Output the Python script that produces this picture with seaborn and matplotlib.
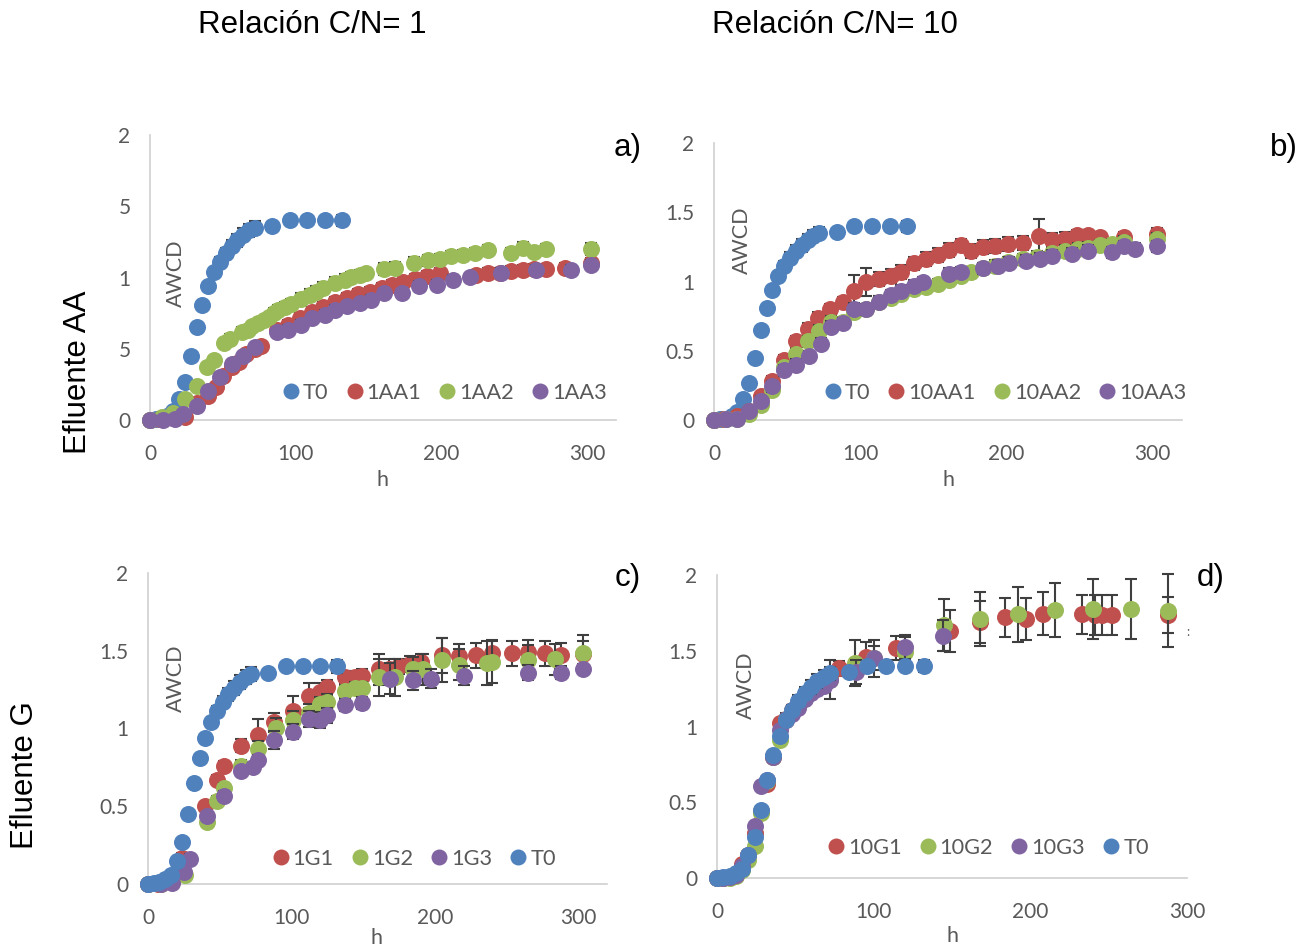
import numpy as np
import pandas as pd
import matplotlib
matplotlib.use('Agg')
import matplotlib.pyplot as plt
from matplotlib.lines import Line2D
import seaborn as sns

sns.set_style('white')
plt.rcParams['font.family'] = ['Lato', 'DejaVu Sans']

BLUE, RED, GREEN, PURPLE = '#4F81BD', '#C0504D', '#9BBB59', '#8064A2'
GRAY = '#595959'
W, H = 1308, 947

## control curve, same in the four panels
t0_t = [0, 4, 8, 12, 16, 20, 24, 28, 32, 36, 40, 44, 48, 52, 56, 60, 64, 68, 72, 84, 96, 108, 120, 132]
t0_v = [0, 0.005, 0.01, 0.03, 0.06, 0.15, 0.27, 0.45, 0.65, 0.81, 0.94, 1.04, 1.11, 1.17, 1.22, 1.26, 1.30, 1.33, 1.35, 1.36, 1.40, 1.40, 1.40, 1.40]
t0_e = [0, 0, 0, 0, 0.005, 0.01, 0.01, 0.01, 0.01, 0.01, 0.02, 0.03, 0.035, 0.04, 0.04, 0.045, 0.045, 0.045, 0.045, 0.01, 0.01, 0.01, 0.01, 0.04]

## a) C/N 1, efluente AA
aa1_t = [0, 7, 16, 24, 32, 40, 45, 50, 56, 61, 66, 72, 76, 87, 95, 103, 111, 119, 127, 135, 143, 151, 159, 166, 174, 182, 190, 199, 224, 232, 240, 248, 256, 264, 272, 285, 303]
aa1_v = [0, 0.005, 0.015, 0.02, 0.12, 0.17, 0.23, 0.31, 0.37, 0.41, 0.46, 0.495, 0.52, 0.635, 0.67, 0.715, 0.76, 0.79, 0.83, 0.855, 0.885, 0.90, 0.925, 0.95, 0.97, 0.99, 1.01, 1.03, 1.02, 1.03, 1.035, 1.045, 1.05, 1.06, 1.06, 1.065, 1.10]
aa1_e = [0, 0, 0.01, 0.01, 0.02, 0.03, 0.03, 0.03, 0.03, 0.03, 0.03, 0.03, 0.03, 0.03, 0.03, 0.035, 0.035, 0.035, 0.035, 0.035, 0.035, 0.035, 0.035, 0.035, 0.035, 0.035, 0.035, 0.035, 0.035, 0.035, 0.035, 0.035, 0.035, 0.035, 0.035, 0.035, 0.04]

aa2_t = [0, 8, 16, 24, 32, 39, 44, 51, 55, 63, 67, 70, 74, 78, 82, 85, 88, 93, 97, 104, 110, 114, 119, 127, 134, 138, 144, 148, 161, 168, 181, 191, 199, 207, 215, 223, 232, 248, 256, 264, 272, 303]
aa2_v = [0, 0.02, 0.05, 0.145, 0.24, 0.37, 0.42, 0.54, 0.57, 0.62, 0.635, 0.66, 0.68, 0.70, 0.72, 0.75, 0.775, 0.79, 0.815, 0.85, 0.88, 0.90, 0.925, 0.96, 0.985, 1.0, 1.015, 1.03, 1.06, 1.067, 1.105, 1.12, 1.13, 1.15, 1.16, 1.17, 1.19, 1.175, 1.21, 1.18, 1.20, 1.20]
aa2_e = [0, 0, 0.01, 0.02, 0.02, 0.03, 0.03, 0.03, 0.03, 0.03, 0.03, 0.03, 0.03, 0.03, 0.03, 0.035, 0.035, 0.035, 0.035, 0.04, 0.04, 0.04, 0.04, 0.04, 0.04, 0.04, 0.04, 0.04, 0.04, 0.04, 0.04, 0.04, 0.035, 0.035, 0.035, 0.035, 0.035, 0.035, 0.04, 0.035, 0.035, 0.04]

aa3_t = [0, 9, 17, 23, 32, 40, 48, 56, 64, 72, 87, 95, 104, 111, 120, 127, 135, 144, 152, 161, 173, 185, 197, 208, 220, 241, 265, 289, 303]
aa3_v = [0, 0, 0.005, 0.04, 0.10, 0.20, 0.30, 0.39, 0.45, 0.51, 0.615, 0.635, 0.67, 0.715, 0.74, 0.775, 0.80, 0.82, 0.845, 0.89, 0.89, 0.94, 0.95, 0.985, 1.0, 1.03, 1.05, 1.05, 1.085]
aa3_e = [0, 0, 0, 0.01, 0.02, 0.03, 0.03, 0.03, 0.03, 0.03, 0.03, 0.03, 0.03, 0.03, 0.03, 0.03, 0.03, 0.03, 0.03, 0.03, 0.03, 0.035, 0.035, 0.035, 0.035, 0.035, 0.035, 0.035, 0.035]

## b) C/N 10, efluente AA
b1_t = [0, 7, 16, 24, 32, 40, 48, 56, 64, 71, 79, 88, 96, 104, 113, 121, 128, 137, 145, 153, 161, 169, 176, 184, 192, 201, 211, 222, 231, 240, 248, 256, 264, 280, 303]
b1_v = [0, 0.005, 0.03, 0.065, 0.17, 0.28, 0.43, 0.57, 0.66, 0.74, 0.80, 0.85, 0.93, 0.995, 1.02, 1.04, 1.07, 1.13, 1.16, 1.19, 1.23, 1.26, 1.22, 1.25, 1.255, 1.27, 1.28, 1.33, 1.30, 1.31, 1.335, 1.335, 1.32, 1.32, 1.345]
b1_e = [0, 0.005, 0.01, 0.02, 0.03, 0.04, 0.04, 0.04, 0.04, 0.04, 0.04, 0.04, 0.12, 0.10, 0.05, 0.05, 0.05, 0.05, 0.05, 0.05, 0.05, 0.05, 0.05, 0.05, 0.05, 0.05, 0.05, 0.12, 0.05, 0.05, 0.04, 0.04, 0.04, 0.04, 0.04]

b2_t = [0, 8, 16, 24, 32, 40, 48, 56, 64, 72, 80, 88, 96, 104, 113, 121, 128, 137, 145, 153, 161, 169, 176, 184, 192, 201, 211, 221, 231, 240, 249, 256, 264, 272, 280, 303]
b2_v = [0, 0.005, 0.01, 0.04, 0.11, 0.22, 0.38, 0.475, 0.57, 0.645, 0.71, 0.705, 0.78, 0.80, 0.855, 0.88, 0.91, 0.945, 0.96, 0.98, 1.01, 1.04, 1.065, 1.095, 1.115, 1.14, 1.16, 1.18, 1.205, 1.22, 1.235, 1.245, 1.26, 1.27, 1.285, 1.31]
b2_e = [0, 0, 0.01, 0.02, 0.03, 0.03, 0.04, 0.04, 0.04, 0.04, 0.04, 0.04, 0.04, 0.04, 0.04, 0.04, 0.04, 0.04, 0.04, 0.04, 0.04, 0.04, 0.04, 0.04, 0.04, 0.04, 0.04, 0.04, 0.04, 0.04, 0.04, 0.04, 0.04, 0.04, 0.04, 0.04]

b3_t = [0, 8, 16, 24, 32, 40, 48, 56, 65, 73, 80, 88, 96, 104, 113, 121, 128, 137, 143, 161, 169, 184, 194, 202, 213, 223, 231, 245, 256, 272, 280, 288, 303]
b3_v = [0, 0.005, 0.01, 0.065, 0.14, 0.245, 0.36, 0.40, 0.46, 0.55, 0.675, 0.70, 0.805, 0.80, 0.855, 0.90, 0.935, 0.97, 0.995, 1.055, 1.065, 1.095, 1.115, 1.135, 1.15, 1.163, 1.187, 1.20, 1.223, 1.21, 1.255, 1.235, 1.255]
b3_e = [0, 0, 0.01, 0.02, 0.03, 0.04, 0.04, 0.04, 0.04, 0.04, 0.04, 0.04, 0.04, 0.04, 0.04, 0.04, 0.04, 0.04, 0.04, 0.04, 0.04, 0.04, 0.04, 0.04, 0.04, 0.04, 0.04, 0.04, 0.04, 0.04, 0.04, 0.04, 0.04]

## c) C/N 1, efluente G
c1_t = [0, 7, 17, 24, 40, 48, 53, 65, 77, 88, 101, 112, 120, 125, 137, 144, 149, 161, 168, 175, 183, 190, 205, 217, 229, 240, 254, 265, 277, 288, 303]
c1_v = [0, 0, 0.02, 0.17, 0.50, 0.67, 0.76, 0.89, 0.96, 1.04, 1.11, 1.21, 1.235, 1.265, 1.33, 1.33, 1.34, 1.38, 1.385, 1.40, 1.415, 1.43, 1.47, 1.465, 1.47, 1.485, 1.485, 1.49, 1.485, 1.47, 1.48]
c1_e = [0, 0, 0.01, 0.03, 0.03, 0.03, 0.03, 0.04, 0.10, 0.06, 0.10, 0.08, 0.06, 0.05, 0.04, 0.04, 0.04, 0.10, 0.06, 0.05, 0.05, 0.05, 0.11, 0.08, 0.08, 0.08, 0.08, 0.08, 0.08, 0.08, 0.12]

c2_t = [0, 9, 17, 26, 41, 48, 53, 65, 77, 89, 101, 112, 120, 125, 137, 144, 149, 161, 172, 185, 192, 205, 217, 236, 240, 265, 284, 303]
c2_v = [0, 0, 0.01, 0.06, 0.40, 0.535, 0.62, 0.76, 0.87, 1.005, 1.055, 1.10, 1.155, 1.17, 1.24, 1.26, 1.26, 1.33, 1.33, 1.38, 1.38, 1.44, 1.41, 1.42, 1.43, 1.44, 1.445, 1.485]
c2_e = [0, 0, 0.01, 0.02, 0.03, 0.03, 0.03, 0.04, 0.05, 0.06, 0.06, 0.06, 0.05, 0.05, 0.04, 0.04, 0.04, 0.12, 0.12, 0.08, 0.10, 0.14, 0.10, 0.14, 0.14, 0.10, 0.10, 0.08]

c3_t = [0, 9, 17, 25, 29, 41, 53, 65, 73, 77, 88, 101, 112, 120, 125, 137, 149, 169, 185, 197, 220, 265, 288, 303]
c3_v = [0, 0, 0.005, 0.08, 0.16, 0.435, 0.565, 0.725, 0.75, 0.80, 0.925, 0.98, 1.06, 1.055, 1.085, 1.15, 1.165, 1.32, 1.31, 1.32, 1.34, 1.36, 1.36, 1.385]
c3_e = [0, 0, 0, 0.02, 0.03, 0.03, 0.03, 0.03, 0.03, 0.03, 0.06, 0.05, 0.05, 0.05, 0.05, 0.04, 0.04, 0.10, 0.06, 0.06, 0.06, 0.05, 0.04, 0.03]

## d) C/N 10, efluente G
d1_t = [0, 4, 8, 12, 16, 20, 24, 28, 32, 36, 40, 44, 48, 52, 56, 60, 64, 68, 72, 78, 95, 114, 149, 168, 184, 197, 208, 233, 241, 246, 252, 288]
d1_v = [0, 0, 0.005, 0.02, 0.09, 0.15, 0.30, 0.44, 0.62, 0.80, 1.02, 1.04, 1.11, 1.15, 1.19, 1.23, 1.27, 1.30, 1.33, 1.385, 1.46, 1.52, 1.63, 1.69, 1.72, 1.71, 1.745, 1.74, 1.735, 1.735, 1.735, 1.735]
d1_e = [0, 0, 0, 0.01, 0.01, 0.02, 0.02, 0.02, 0.02, 0.03, 0.03, 0.03, 0.03, 0.03, 0.03, 0.03, 0.03, 0.03, 0.03, 0.05, 0.10, 0.08, 0.14, 0.14, 0.13, 0.14, 0.14, 0.13, 0.13, 0.13, 0.13, 0.12]

d2_t = [0, 4, 8, 12, 16, 20, 24, 28, 32, 36, 40, 44, 48, 52, 56, 60, 64, 68, 72, 88, 100, 120, 145, 168, 192, 216, 240, 264, 288]
d2_v = [0, 0, 0, 0.01, 0.05, 0.12, 0.21, 0.43, 0.64, 0.80, 0.91, 1.05, 1.10, 1.15, 1.19, 1.23, 1.26, 1.29, 1.31, 1.42, 1.45, 1.49, 1.67, 1.71, 1.74, 1.77, 1.775, 1.775, 1.765]
d2_e = [0, 0, 0, 0.01, 0.01, 0.02, 0.02, 0.02, 0.03, 0.03, 0.03, 0.04, 0.04, 0.04, 0.05, 0.05, 0.05, 0.06, 0.13, 0.15, 0.12, 0.10, 0.17, 0.18, 0.18, 0.18, 0.20, 0.20, 0.24]

d3_t = [0, 4, 8, 12, 16, 20, 24, 28, 32, 36, 40, 44, 48, 52, 56, 60, 64, 68, 72, 89, 100, 120, 144]
d3_v = [0, 0, 0.005, 0.02, 0.08, 0.15, 0.34, 0.61, 0.65, 0.80, 0.975, 1.05, 1.08, 1.12, 1.18, 1.22, 1.25, 1.27, 1.31, 1.36, 1.45, 1.525, 1.60]
d3_e = [0, 0, 0, 0.01, 0.01, 0.02, 0.02, 0.02, 0.02, 0.03, 0.03, 0.03, 0.03, 0.03, 0.03, 0.03, 0.03, 0.03, 0.04, 0.08, 0.08, 0.08, 0.10]

ticks_dot = ['0', '0.5', '1', '1.5', '2']
ticks_cut = ['0', '5', '1', '5', '2']


def box(l, t, r, b):
    return [l / W, 1 - b / H, (r - l) / W, (b - t) / H]


def panel(fig, rect, xmax, series, leg_xy, yticklabels, xtick_marks=False):
    ax = fig.add_axes(box(*rect))
    for i, (name, t, v, e, c) in enumerate(series):
        df = pd.DataFrame({'h': t, 'awcd': v, 'err': e})
        ax.errorbar(df['h'], df['awcd'], yerr=df['err'], fmt='none', ecolor='#3F3F3F',
                    elinewidth=1.5, capsize=4.5, capthick=1.5, zorder=2 + 2 * i, clip_on=False)
        sns.scatterplot(data=df, x='h', y='awcd', color=c, s=150, linewidth=0, ax=ax,
                        zorder=3 + 2 * i, clip_on=False)
    ax.set_xlim(0, xmax)
    ax.set_ylim(0, 2)
    ax.set_xticks([0, 100, 200, 300])
    ax.set_yticks([0, 0.5, 1, 1.5, 2])
    ax.set_yticklabels(yticklabels)
    ax.set_xlabel('')
    ax.set_ylabel('')
    for s in ['top', 'right']:
        ax.spines[s].set_visible(False)
    for s in ['left', 'bottom']:
        ax.spines[s].set_color('#D0D0D0')
        ax.spines[s].set_linewidth(1.2)
    ax.tick_params(axis='y', length=0, pad=14, labelsize=15, labelcolor=GRAY)
    if xtick_marks:
        ax.tick_params(axis='x', length=5, width=1.2, color='#D0D0D0', direction='out',
                       pad=12, labelsize=15, labelcolor=GRAY)
    else:
        ax.tick_params(axis='x', length=0, pad=17, labelsize=15, labelcolor=GRAY)
    handles = [Line2D([], [], ls='none', marker='o', ms=11.5, mew=0, color=c) for _, _, _, _, c in series]
    labels = [name for name, _, _, _, _ in series]
    ax.legend(handles, labels, ncol=4, loc='center', bbox_to_anchor=leg_xy, frameon=False,
              handletextpad=0.05, columnspacing=0.7, handlelength=1.0, fontsize=15.7,
              labelcolor=GRAY, borderaxespad=0)
    return ax


fig = plt.figure(figsize=(W / 100, H / 100), dpi=100)

panel(fig, (150, 135, 616, 420), 320,
      [('T0', t0_t, t0_v, t0_e, BLUE), ('1AA1', aa1_t, aa1_v, aa1_e, RED),
       ('1AA2', aa2_t, aa2_v, aa2_e, GREEN), ('1AA3', aa3_t, aa3_v, aa3_e, PURPLE)],
      (0.63, 0.095), ticks_cut)
panel(fig, (714, 143, 1182, 420), 320,
      [('T0', t0_t, t0_v, t0_e, BLUE), ('10AA1', b1_t, b1_v, b1_e, RED),
       ('10AA2', b2_t, b2_v, b2_e, GREEN), ('10AA3', b3_t, b3_v, b3_e, PURPLE)],
      (0.62, 0.097), ticks_dot)
panel(fig, (148, 573, 607, 884), 320,
      [('1G1', c1_t, c1_v, c1_e, RED), ('1G2', c2_t, c2_v, c2_e, GREEN),
       ('1G3', c3_t, c3_v, c3_e, PURPLE), ('T0', t0_t, t0_v, t0_e, BLUE)],
      (0.577, 0.08), ticks_dot)
panel(fig, (717, 575, 1187, 878), 300,
      [('10G1', d1_t, d1_v, d1_e, RED), ('10G2', d2_t, d2_v, d2_e, GREEN),
       ('10G3', d3_t, d3_v, d3_e, PURPLE), ('T0', t0_t, t0_v, t0_e, BLUE)],
      (0.574, 0.099), ticks_dot, xtick_marks=True)

# texts placed in figure pixels
def ftext(x, y, s, **kw):
    fig.text(x / W, 1 - y / H, s, ha='center', va='center', **kw)

big = dict(family=['Liberation Sans', 'DejaVu Sans'], fontsize=22.5, color='black')
ftext(312, 25, 'Relación C/N= 1', **big)
ftext(835, 25, 'Relación C/N= 10', **big)
ftext(78, 372, 'Efluente AA', rotation=90, **big)
ftext(25, 775, 'Efluente G', rotation=90, **big)
for x, y, s in [(628, 148, 'a)'), (1284, 148, 'b)'), (628, 578, 'c)'), (1211, 578, 'd)')]:
    ftext(x, y, s, **big)

for x, y in [(176, 273), (742, 240), (176, 678), (746, 685)]:
    ftext(x, y, 'AWCD', rotation=90, fontsize=15.5, color=GRAY)
for x, y in [(382, 480), (948, 480), (376, 938), (952, 936)]:
    ftext(x, y, 'h', fontsize=15.5, color=GRAY)
ftext(1188, 632, ':', fontsize=9, color=GRAY)

fig.savefig('out.png', dpi=100)
